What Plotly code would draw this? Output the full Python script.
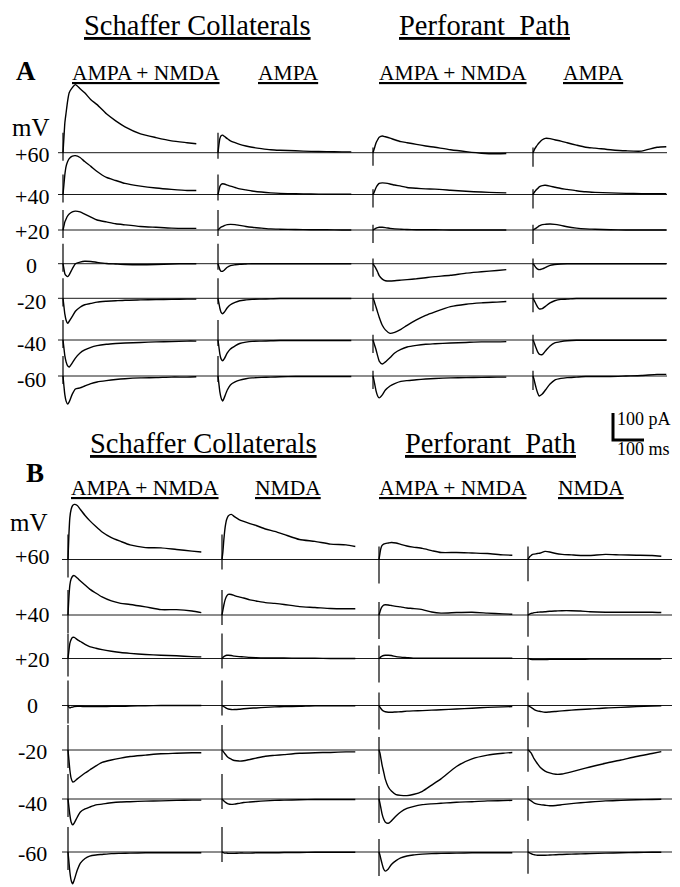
import plotly.graph_objects as go

# ---------------- DATA ----------------
# sample times after the stimulus (ms)
t_ms = [0, 3, 6, 10, 15, 20, 30, 40, 55, 70, 90, 110, 140, 170, 200, 250, 300, 350, 400, 430]
holding_mV = ["+60", "+40", "+20", "0", "-20", "-40", "-60"]

# Currents (pA), one list per holding potential (+60 ... -60)
# Panel A, Schaffer collaterals, AMPA + NMDA
A_sc_ampa_nmda = [
    [0, 56, 111, 148, 192, 222, 241, 252, 237, 222, 196, 178, 144, 118, 96, 70, 56, 44, 37, 33],
    [0, 37, 74, 104, 122, 133, 142, 144, 137, 122, 104, 85, 63, 52, 41, 31, 24, 19, 15, 15],
    [0, 15, 30, 41, 52, 59, 67, 70, 67, 59, 48, 37, 30, 23, 19, 13, 10, 7, 6, 6],
    [0, -19, -37, -44, -48, -41, -19, 0, 6, 9, 8, 5, 1, -1, -3, -4, -3, -1, 0, 0],
    [0, -30, -59, -81, -93, -85, -67, -48, -33, -24, -19, -14, -11, -9, -7, -6, -5, -4, -3, -3],
    [0, -30, -59, -81, -96, -100, -85, -67, -48, -37, -27, -21, -16, -13, -11, -9, -7, -6, -4, -4],
    [0, -37, -70, -93, -104, -96, -67, -48, -44, -37, -28, -22, -17, -13, -10, -7, -6, -4, -4, -3],
]
# Panel A, Schaffer collaterals, AMPA
A_sc_ampa = [
    [0, 30, 52, 63, 65, 61, 52, 44, 37, 31, 25, 20, 15, 11, 9, 7, 5, 4, 3, 3],
    [0, 15, 30, 37, 40, 39, 35, 31, 26, 21, 17, 13, 9, 6, 4, 3, 2, 1, 1, 1],
    [0, 4, 7, 11, 13, 16, 20, 21, 20, 17, 13, 10, 7, 4, 3, 2, 1, 1, 0, 0],
    [0, -11, -22, -28, -28, -24, -13, -7, -4, -2, -1, 0, 0, 0, 0, 0, 0, 0, 0, 0],
    [0, -19, -37, -52, -57, -52, -35, -24, -15, -9, -6, -4, -3, -2, -1, -1, -1, -1, -1, -1],
    [0, -26, -52, -70, -77, -70, -48, -33, -22, -13, -8, -5, -4, -3, -2, -2, -2, -2, -2, -2],
    [0, -30, -59, -81, -93, -81, -52, -33, -22, -15, -10, -7, -5, -4, -3, -2, -2, -2, -2, -2],
]
# Panel A, perforant path, AMPA + NMDA
A_pp_ampa_nmda = [
    [0, 11, 22, 37, 48, 57, 62, 59, 54, 48, 41, 37, 31, 25, 20, 11, 4, -2, -4, -3],
    [0, 7, 15, 26, 35, 41, 43, 42, 39, 35, 31, 26, 23, 21, 20, 16, 12, 9, 7, 6],
    [0, 2, 4, 7, 9, 10, 10, 9, 6, 4, 3, 2, 1, 1, 1, 0, 0, 0, 0, 0],
    [0, -6, -11, -19, -31, -44, -57, -63, -64, -63, -61, -59, -56, -52, -48, -43, -35, -30, -25, -22],
    [0, -7, -19, -33, -52, -70, -100, -117, -130, -126, -115, -100, -80, -63, -50, -31, -22, -17, -14, -12],
    [0, -11, -22, -37, -59, -78, -89, -81, -65, -48, -35, -26, -20, -16, -14, -11, -9, -7, -7, -6],
    [0, -15, -33, -56, -74, -81, -70, -52, -37, -28, -20, -17, -14, -11, -9, -7, -6, -5, -4, -4],
]
# Panel A, perforant path, AMPA
A_pp_ampa = [
    [0, 7, 15, 22, 30, 37, 48, 53, 52, 48, 43, 37, 28, 20, 17, 11, 7, 6, 20, 22],
    [0, 6, 11, 17, 22, 28, 33, 34, 31, 27, 22, 19, 14, 10, 8, 6, 4, 3, 3, 3],
    [0, 2, 4, 7, 11, 15, 20, 21, 22, 21, 17, 12, 7, 4, 3, 1, 0, 0, 0, 0],
    [0, -4, -9, -15, -20, -22, -19, -14, -6, -3, -1, 0, 0, 0, 0, 0, 0, 0, 0, 0],
    [0, -6, -13, -22, -33, -39, -38, -30, -17, -9, -4, -3, -1, -1, -1, -1, -1, -1, -1, -1],
    [0, -7, -17, -30, -44, -52, -54, -41, -22, -11, -6, -3, -1, -1, -1, -1, -1, -1, -1, -1],
    [0, -11, -26, -44, -63, -74, -67, -52, -30, -15, -9, -6, -4, -2, -2, -2, 0, 2, 6, 6],
]
# Panel B, Schaffer collaterals, AMPA + NMDA
B_sc_ampa_nmda = [
    [0, 93, 155, 185, 200, 204, 200, 185, 163, 144, 122, 102, 81, 67, 54, 44, 43, 37, 31, 28],
    [0, 67, 111, 133, 144, 146, 137, 126, 111, 96, 81, 67, 52, 43, 39, 30, 20, 20, 15, 9],
    [0, 30, 56, 70, 78, 78, 70, 63, 52, 44, 38, 33, 27, 22, 19, 15, 12, 10, 7, 6],
    [0, -6, -9, -7, -6, -4, -3, -3, -4, -4, -4, -4, -3, -3, -2, -1, 0, 0, 0, 0],
    [0, -37, -74, -104, -118, -117, -107, -98, -85, -74, -59, -46, -37, -30, -24, -19, -14, -12, -10, -10],
    [0, -30, -59, -85, -96, -89, -67, -48, -37, -30, -22, -19, -14, -11, -10, -8, -7, -5, -4, -4],
    [0, -37, -74, -104, -118, -104, -67, -41, -24, -15, -11, -9, -6, -5, -4, -3, -3, -3, -3, -3],
]
# Panel B, Schaffer collaterals, NMDA
B_sc_nmda = [
    [0, 30, 74, 118, 148, 161, 167, 159, 148, 141, 133, 126, 113, 104, 93, 74, 67, 57, 54, 48],
    [0, 19, 37, 56, 70, 76, 76, 72, 67, 63, 56, 52, 46, 43, 39, 31, 28, 24, 23, 23],
    [0, 4, 7, 10, 12, 12, 11, 9, 7, 6, 4, 3, 2, 2, 2, 1, 1, 0, 0, 0],
    [0, -2, -4, -7, -11, -13, -15, -15, -14, -12, -10, -9, -7, -5, -4, -3, -1, -1, -1, -1],
    [0, -4, -9, -15, -22, -28, -34, -39, -41, -40, -35, -30, -23, -20, -17, -12, -10, -9, -7, -7],
    [0, -4, -7, -11, -15, -18, -20, -19, -16, -13, -11, -9, -7, -5, -4, -3, -2, -2, -2, -2],
    [0, -1, -3, -4, -4, -5, -5, -5, -4, -4, -4, -3, -3, -3, -2, -2, -1, -1, -1, -1],
]
# Panel B, perforant path, AMPA + NMDA
B_pp_ampa_nmda = [
    [0, 22, 41, 52, 57, 59, 61, 63, 61, 56, 50, 46, 41, 33, 26, 26, 24, 22, 17, 16],
    [0, 11, 22, 31, 37, 38, 37, 35, 32, 30, 26, 24, 20, 11, 7, 9, 10, 7, 4, 3],
    [0, 3, 6, 9, 11, 12, 12, 11, 7, 5, 3, 1, 1, 1, 1, 1, 1, 1, 1, 1],
    [0, -6, -11, -17, -21, -23, -25, -25, -24, -23, -21, -20, -19, -17, -16, -13, -10, -7, -5, -4],
    [0, -11, -30, -56, -81, -107, -137, -152, -165, -168, -169, -165, -153, -130, -107, -61, -33, -19, -12, -9],
    [0, -15, -33, -56, -74, -85, -90, -81, -63, -48, -35, -28, -21, -18, -16, -12, -10, -7, -6, -5],
    [0, -11, -26, -44, -63, -71, -63, -46, -32, -22, -15, -11, -8, -6, -5, -4, -3, -3, -3, -3],
]
# Panel B, perforant path, NMDA
B_pp_nmda = [
    [0, 6, 11, 15, 19, 20, 22, 24, 30, 28, 22, 19, 17, 15, 15, 19, 17, 16, 15, 12],
    [0, 2, 4, 6, 7, 9, 10, 11, 12, 14, 15, 16, 16, 15, 12, 10, 10, 10, 10, 9],
    [0, -1, -2, -3, -4, -4, -4, -4, -4, -3, -3, -3, -3, -3, -2, -2, -2, -2, -2, -2],
    [0, -2, -4, -7, -11, -15, -20, -22, -25, -24, -22, -20, -17, -15, -13, -9, -7, -4, -2, -1],
    [0, -2, -6, -11, -22, -33, -50, -65, -78, -85, -90, -89, -81, -72, -63, -49, -37, -24, -13, -6],
    [0, -2, -4, -7, -11, -15, -19, -21, -23, -25, -24, -21, -17, -14, -11, -7, -5, -3, -2, -1],
    [0, -2, -4, -6, -9, -10, -12, -12, -12, -11, -10, -9, -8, -7, -6, -4, -3, -2, -1, -1],
]
# stimulus artifact size per column (pA up / pA down)
A_artifact_up = [74, 74, 19, 19]
A_artifact_down = [30, 22, 48, 52]
B_artifact_up = [93, 93, 48, 48]
B_artifact_down = [67, 37, 89, 81]

scale_ms = 100
scale_pA = 100

A_headers = ["AMPA + NMDA", "AMPA", "AMPA + NMDA", "AMPA"]
B_headers = ["AMPA + NMDA", "NMDA", "AMPA + NMDA", "NMDA"]
pathways = ["Schaffer Collaterals", "Perforant\u00a0 Path"]

# ---------------- LAYOUT CONSTANTS ----------------
W, H = 680, 887
OFF = 8  # page body margin offset of the plot div
MS_PER_PX = 100 / 31.0
PA_PER_PX = 100 / 27.0


def xms(px):
    return (px - OFF) * MS_PER_PX


def ypa(px):
    return -(px - OFF) * PA_PER_PX


A_rows_px = [152.7, 194.5, 230.0, 263.7, 298.3, 340.0, 376.0]
B_rows_px = [559.5, 615.0, 658.5, 705.5, 750.0, 799.0, 852.0]
A_label_px = [154, 196, 231, 265, 301, 343, 379]
B_label_px = [556, 614, 659, 705, 751, 803, 853]
A_cols_px = [63, 218, 373, 533]
B_cols_px = [68, 222, 379, 528]
A_base_span = (58, 667)
B_base_span = (62, 672)

FONT = "Liberation Serif, Times New Roman, serif"

fig = go.Figure()


def add_panel(cols_data, rows_px, cols_px, span, art_up, art_down):
    bx, by = [], []
    for r in rows_px:
        bx += [xms(span[0]), xms(span[1]), None]
        by += [ypa(r), ypa(r), None]
    fig.add_trace(go.Scatter(x=bx, y=by, mode="lines",
                             line=dict(color="#1a1a1a", width=1.0),
                             hoverinfo="skip", showlegend=False))
    ax, ay = [], []
    for ci, col in enumerate(cols_data):
        x0 = xms(cols_px[ci])
        for ri, vals in enumerate(col):
            y0 = ypa(rows_px[ri])
            fig.add_trace(go.Scatter(
                x=[x0 + t for t in t_ms], y=[y0 + v for v in vals],
                mode="lines", line=dict(color="black", width=1.4, shape="spline", smoothing=0.6),
                hoverinfo="skip", showlegend=False))
            ax += [x0, x0, None]
            ay += [y0 + art_up[ci], y0 - art_down[ci], None]
    fig.add_trace(go.Scatter(x=ax, y=ay, mode="lines",
                             line=dict(color="black", width=1.2),
                             hoverinfo="skip", showlegend=False))


add_panel([A_sc_ampa_nmda, A_sc_ampa, A_pp_ampa_nmda, A_pp_ampa],
          A_rows_px, A_cols_px, A_base_span, A_artifact_up, A_artifact_down)
add_panel([B_sc_ampa_nmda, B_sc_nmda, B_pp_ampa_nmda, B_pp_nmda],
          B_rows_px, B_cols_px, B_base_span, B_artifact_up, B_artifact_down)

# scale bar (100 ms x 100 pA)
sb_x0, sb_y0 = xms(613), ypa(440)
fig.add_trace(go.Scatter(x=[sb_x0, sb_x0, sb_x0 + scale_ms],
                         y=[sb_y0 + scale_pA, sb_y0, sb_y0],
                         mode="lines", line=dict(color="black", width=3),
                         hoverinfo="skip", showlegend=False))

ann = []


def text(s, xpx, ypx, size, xanchor="center", bold=False, underline=False, align="center"):
    if underline:
        s = "<u>" + s + "</u>"
    if bold:
        s = "<b>" + s + "</b>"
    ann.append(dict(text=s, x=(xpx - OFF) / W, y=1 - (ypx - OFF) / H,
                    xref="paper", yref="paper", align=align,
                    xanchor=xanchor, yanchor="middle", showarrow=False,
                    font=dict(family=FONT, size=size, color="black")))


# Panel A titles
text(pathways[0], 197, 25, 28.5, underline=True)
text(pathways[1], 485, 25, 28.5, underline=True)
text("A", 26, 71, 27, bold=True)
for s, xc in zip(A_headers, [146, 288, 453, 593]):
    text(s, xc, 73, 21.5, underline=True)
text("mV", 31, 127, 25)
for lab, r in zip(holding_mV, A_label_px):
    text(lab, 31.5, r, 22)

# Panel B titles
text(pathways[0], 203, 444, 28.5, underline=True)
text(pathways[1], 490, 443, 28.5, underline=True)
text("B", 35, 473, 27, bold=True)
for s, xc in zip(B_headers, [145, 288, 453, 591]):
    text(s, xc, 488, 21.5, underline=True)
text("mV", 29, 522, 25)
for lab, r in zip(holding_mV, B_label_px):
    text(lab, 32.5, r, 22)

# scale bar labels
text(f"{scale_pA} pA", 615, 419, 18, xanchor="left", align="left")
text(f"{scale_ms} ms", 615, 449, 18, xanchor="left", align="left")

fig.update_layout(
    width=W, height=H, margin=dict(l=0, r=0, t=0, b=0),
    paper_bgcolor="white", plot_bgcolor="white",
    xaxis=dict(range=[0, W * MS_PER_PX], visible=False, fixedrange=True),
    yaxis=dict(range=[-H * PA_PER_PX, 0], visible=False, fixedrange=True),
    annotations=ann, hovermode=False,
)

fig.write_html("out.html", config={"displayModeBar": False})
